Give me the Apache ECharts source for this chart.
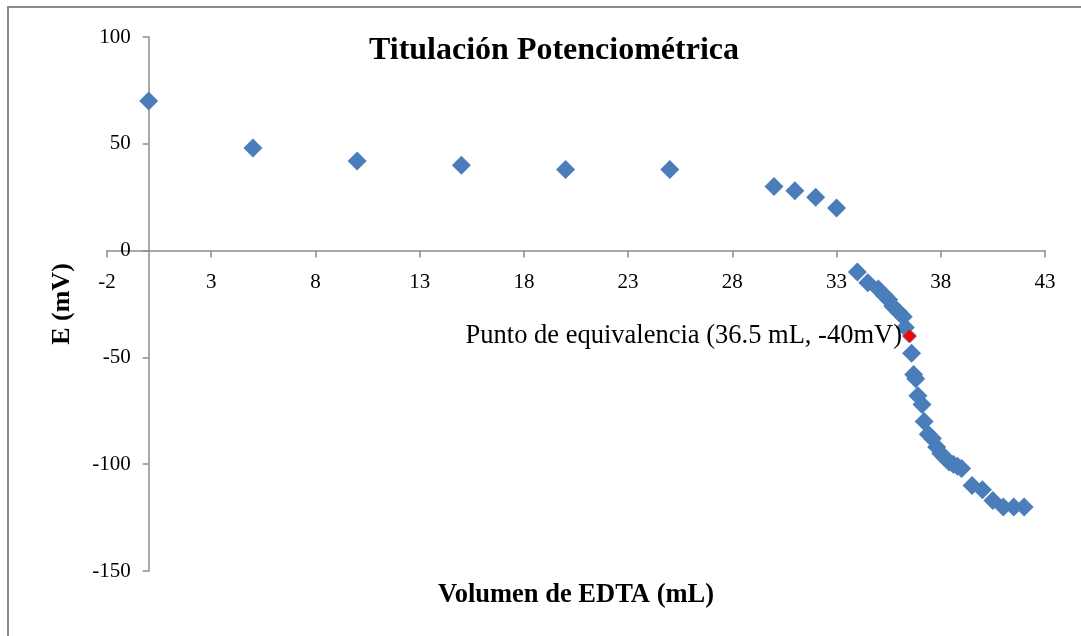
<!DOCTYPE html>
<html>
<head>
<meta charset="utf-8">
<title>Titulación Potenciométrica</title>
<script src="https://cdn.jsdelivr.net/npm/echarts@6/dist/echarts.min.js"></script>
<style>
  html, body { margin: 0; padding: 0; background: #ffffff; }
  #chart { width: 1081px; height: 636px; }
</style>
</head>
<body>
<div id="chart"></div>
<script>
// Volumen de EDTA añadido (mL)
const volumen = [0, 5, 10, 15, 20, 25, 30, 31, 32, 33, 34, 34.5, 35, 35.3, 35.5, 35.7, 36, 36.2, 36.3,
  36.6, 36.7, 36.8, 36.9, 37.1, 37.2, 37.4, 37.6, 37.8, 38, 38.2, 38.4, 38.6, 38.8, 39,
  39.5, 40, 40.5, 41, 41.5, 42];
// Potencial medido (mV)
const potencial = [70, 48, 42, 40, 38, 38, 30, 28, 25, 20, -10, -15, -18, -21, -23, -26, -29, -31, -36,
  -48, -58, -60, -68, -72, -80, -86, -88, -92, -95, -97, -99, -100, -101, -102,
  -110, -112, -117, -120, -120, -120];
// Punto de equivalencia
const equivVol = [36.5];
const equivE = [-40];
const equivTexto = 'Punto de equivalencia (36.5 mL, -40mV)';

// Rango de los ejes
const xMin = -2, xMax = 43, xStep = 5;
const yMin = -150, yMax = 100, yStep = 50;

const serif = '"Liberation Serif", "Times New Roman", serif';
const axisGrey = '#8c8c8c';

const puntos = volumen.map((v, i) => [v, potencial[i]]);
const equiv = equivVol.map((v, i) => [v, equivE[i]]);

// Área de trazado
const gridBox = { left: 107, right: 36, top: 37, bottom: 65 };
const W = 1081, H = 636;
const plotW = W - gridBox.left - gridBox.right;
const plotH = H - gridBox.top - gridBox.bottom;
// Los ejes se cruzan en (0, 0): desplazamiento desde los bordes del área
const xAxisShift = -plotH * (0 - yMin) / (yMax - yMin);
const yAxisShift = -plotW * (0 - xMin) / (xMax - xMin);

const chart = echarts.init(document.getElementById('chart'), null, { renderer: 'canvas' });
chart.setOption({
  animation: false,
  backgroundColor: '#ffffff',
  textStyle: { fontFamily: serif },
  title: {
    text: 'Titulación Potenciométrica',
    left: 549,
    textAlign: 'center',
    top: 30,
    textStyle: { fontFamily: serif, fontSize: 32, fontWeight: 'bold', color: '#000' }
  },
  graphic: [{
    type: 'rect',
    shape: { x: 8, y: 7, width: 1200, height: 800 },
    style: { fill: null, stroke: '#8a8a8a', lineWidth: 2 },
    silent: true
  }],
  grid: {
    left: gridBox.left, right: gridBox.right, top: gridBox.top, bottom: gridBox.bottom,
    containLabel: false,
    outerBoundsMode: 'none'
  },
  xAxis: {
    type: 'value',
    min: xMin,
    max: xMax,
    interval: xStep,
    offset: xAxisShift,
    name: 'Volumen de EDTA (mL)',
    nameLocation: 'middle',
    nameGap: 331,
    nameMoveOverlap: false,
    nameTextStyle: { fontFamily: serif, fontSize: 26.5, fontWeight: 'bold', color: '#000' },
    axisLine: { onZero: false, lineStyle: { color: axisGrey, width: 1.5 } },
    axisTick: { show: true, inside: false, length: 7, lineStyle: { color: axisGrey, width: 1.5 } },
    axisLabel: { margin: 21, fontFamily: serif, fontSize: 21, color: '#000' },
    splitLine: { show: false }
  },
  yAxis: {
    type: 'value',
    min: yMin,
    max: yMax,
    interval: yStep,
    offset: yAxisShift,
    name: 'E (mV)',
    nameLocation: 'middle',
    nameGap: 73,
    nameRotate: 90,
    nameMoveOverlap: false,
    nameTextStyle: { fontFamily: serif, fontSize: 26, fontWeight: 'bold', color: '#000' },
    axisLine: { show: true, onZero: false, lineStyle: { color: axisGrey, width: 1.5 } },
    axisTick: { show: true, inside: false, length: 6, lineStyle: { color: axisGrey, width: 1.5 } },
    axisLabel: { margin: 18, fontFamily: serif, fontSize: 21, color: '#000' },
    splitLine: { show: false }
  },
  series: [
    {
      name: 'E',
      type: 'scatter',
      data: puntos,
      symbol: 'diamond',
      symbolSize: 19,
      itemStyle: { color: '#4a7ebb', opacity: 1 },
      z: 2
    },
    {
      name: 'Punto de equivalencia',
      type: 'scatter',
      data: equiv,
      symbol: 'diamond',
      symbolSize: 14,
      itemStyle: { color: '#ff0000', borderColor: '#4a7ebb', borderWidth: 1, opacity: 1 },
      label: {
        show: true,
        position: 'left',
        distance: 0,
        formatter: () => equivTexto,
        fontFamily: serif,
        fontSize: 26.5,
        color: '#000'
      },
      z: 3
    }
  ]
});
</script>
</body>
</html>
